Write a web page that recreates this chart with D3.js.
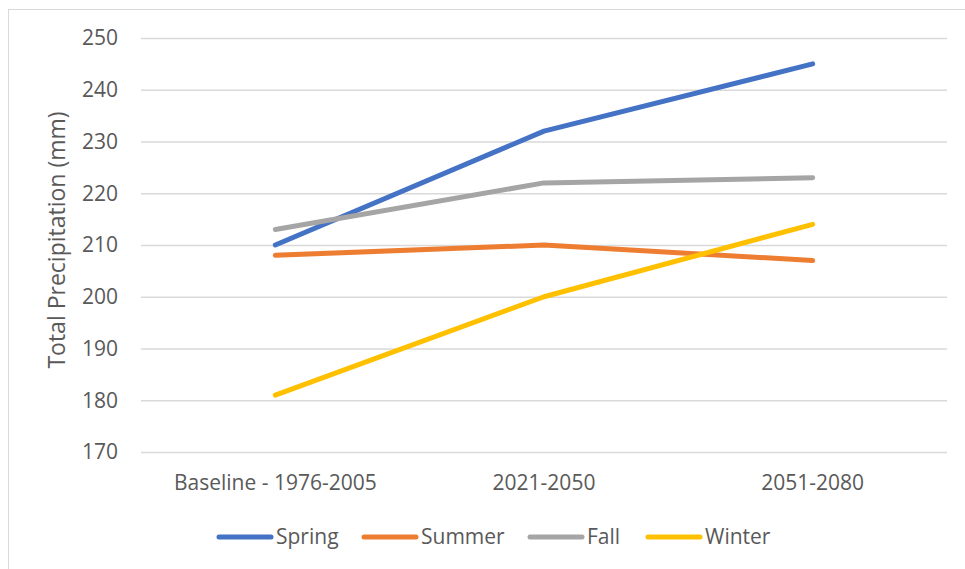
<!DOCTYPE html>
<html>
<head>
<meta charset="utf-8">
<script src="https://cdn.jsdelivr.net/npm/d3@7"></script>
<style>
  body { margin: 0; background: #fff; }
  svg text { font-family: "Open Sans", "Noto Sans", sans-serif; fill: #595959; }
</style>
</head>
<body>
<div id="chart"></div>
<script>
const periods = ['Baseline - 1976-2005', '2021-2050', '2051-2080'];
const seasons = ['Spring', 'Summer', 'Fall', 'Winter'];
const spring = [210, 232, 245];
const summer = [208, 210, 207];
const fall = [213, 222, 223];
const winter = [181, 200, 214];
const colors = ['#4472c4', '#ed7d31', '#a5a5a5', '#ffc000'];
const yTicks = [170, 180, 190, 200, 210, 220, 230, 240, 250];

const largura = 965, altura = 569;
const series = [spring, summer, fall, winter].map((v, i) => ({ name: seasons[i], values: v, color: colors[i] }));

const svg = d3.select('#chart').append('svg')
    .attr('width', largura)
    .attr('height', altura);

// borda do gráfico
svg.append('rect')
    .attr('x', 8.5).attr('y', 9.5)
    .attr('width', largura).attr('height', altura)
    .attr('fill', 'none').attr('stroke', '#d9d9d9');

const x = d3.scaleBand().domain(periods).range([141, 947]);
const y = d3.scaleLinear().domain([170, 250]).range([452, 38]);

// linhas de grade
svg.append('g')
    .selectAll('line')
    .data(yTicks)
    .enter()
    .append('line')
    .attr('x1', 141).attr('x2', 947)
    .attr('y1', d => y(d) + 0.5).attr('y2', d => y(d) + 0.5)
    .attr('stroke', '#d9d9d9').attr('stroke-width', 1.5);

// rótulos do eixo y
svg.append('g')
    .selectAll('text')
    .data(yTicks)
    .enter()
    .append('text')
    .attr('x', 118).attr('y', d => y(d))
    .attr('dy', '0.35em')
    .attr('text-anchor', 'end')
    .attr('font-size', 21)
    .text(d => d);

// rótulos do eixo x
svg.append('g')
    .selectAll('text')
    .data(periods)
    .enter()
    .append('text')
    .attr('x', d => x(d) + x.bandwidth() / 2)
    .attr('y', 490)
    .attr('text-anchor', 'middle')
    .attr('font-size', 21)
    .text(d => d);

// título do eixo y
svg.append('text')
    .attr('transform', 'translate(65,240) rotate(-90)')
    .attr('text-anchor', 'middle')
    .attr('font-size', 23)
    .text('Total Precipitation (mm)');

const line = d3.line()
    .x((d, i) => x(periods[i]) + x.bandwidth() / 2)
    .y(d => y(d));

svg.append('g')
    .selectAll('path')
    .data(series)
    .enter()
    .append('path')
    .attr('d', d => line(d.values))
    .attr('fill', 'none')
    .attr('stroke', d => d.color)
    .attr('stroke-width', 5)
    .attr('stroke-linecap', 'round')
    .attr('stroke-linejoin', 'round');

// legenda
const legendX = [217, 362, 528, 646];
const lg = svg.append('g')
    .selectAll('g')
    .data(series)
    .enter()
    .append('g')
    .attr('transform', (d, i) => 'translate(' + legendX[i] + ',537)');
lg.append('line')
    .attr('x1', 2).attr('x2', 54)
    .attr('stroke', d => d.color)
    .attr('stroke-width', 5)
    .attr('stroke-linecap', 'round');
lg.append('text')
    .attr('x', 59)
    .attr('dy', '0.35em')
    .attr('font-size', 21)
    .text(d => d.name);
</script>
</body>
</html>
